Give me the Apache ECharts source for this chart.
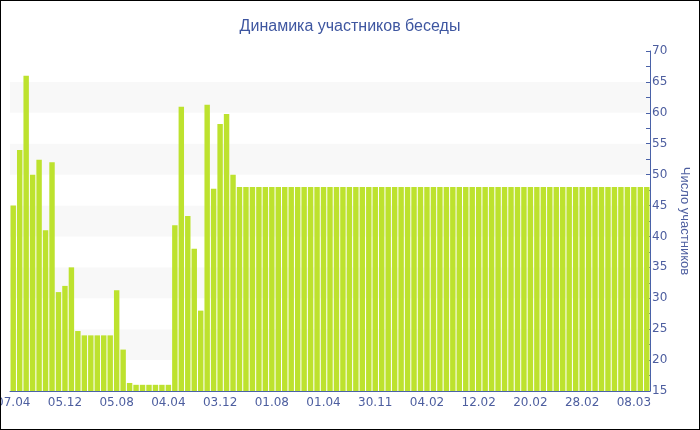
<!DOCTYPE html>
<html>
<head>
<meta charset="utf-8">
<script src="https://cdn.jsdelivr.net/npm/echarts@6/dist/echarts.min.js"></script>
<style>
  html, body { margin: 0; padding: 0; background: #fff; }
  #chart { width: 698px; height: 428px; border: 1px solid #000; }
</style>
</head>
<body>
<div id="chart"></div>
<script>
  // подписи оси X, каждая 8-я категория
  var tickLabels = ['07.04', '05.12', '05.08', '04.04', '03.12', '01.08', '01.04',
                    '30.11', '04.02', '12.02', '20.02', '28.02', '08.03']
  var labelStep = 8

  // число участников по каждому столбцу
  var headValues = [45, 54, 66, 50, 52.4, 41, 52, 31, 32, 35,
                    24.7, 24, 24, 24, 24, 24, 31.3, 21.7, 16.3, 16,
                    16, 16, 16, 16, 16, 41.8, 61, 43.3, 38, 28,
                    61.3, 47.7, 58.2, 59.8, 50]
  var tailValue = 48
  var tailCount = 64

  var values = headValues.slice()
  for (var i = 0; i < tailCount; i++) values.push(tailValue)

  var categories = []
  for (var j = 0; j < values.length; j++) {
    categories.push(j % labelStep === 0 ? (tickLabels[j / labelStep] || '') : '#' + j)
  }

  var axisColor = '#4a62a8'
  var textColor = '#4d5e9f'
  var font = 'Liberation Sans'
  var tickFont = 'DejaVu Sans'

  var myChart = echarts.init(document.getElementById('chart'))
  var option = {
    animation: false,
    title: {
      left: 'center',
      top: 13,
      text: 'Динамика участников беседы',
      textStyle: {
        color: '#3e56a0',
        fontWeight: 'normal',
        fontSize: 16,
        fontFamily: font,
      },
    },
    grid: {
      left: 9,
      right: 49,
      top: 50,
      bottom: 38,
      outerBoundsMode: 'none',
      containLabel: false,
    },
    xAxis: {
      type: 'category',
      data: categories,
      axisLine: { lineStyle: { color: axisColor } },
      axisTick: {
        alignWithLabel: true,
        interval: function (idx) { return idx % labelStep === 0 },
        length: 4,
        lineStyle: { color: axisColor },
      },
      axisLabel: {
        interval: function (idx) { return idx % labelStep === 0 },
        color: textColor,
        fontSize: 12,
        fontFamily: tickFont,
        margin: 6,
        hideOverlap: false,
      },
      splitLine: { show: false },
    },
    yAxis: {
      type: 'value',
      position: 'right',
      min: 15,
      max: 70,
      interval: 5,
      name: 'Число участников',
      nameLocation: 'middle',
      nameRotate: -90,
      nameGap: 28,
      nameTextStyle: { color: textColor, fontSize: 13, fontFamily: font },
      axisLine: { show: true, lineStyle: { color: axisColor } },
      axisTick: { show: true, inside: true, length: 4, lineStyle: { color: axisColor } },
      minorTick: { show: true, splitNumber: 2, length: 4, lineStyle: { color: axisColor } },
      axisLabel: { color: textColor, fontSize: 12, fontFamily: tickFont, margin: 2 },
      splitLine: { show: false },
      splitArea: {
        show: true,
        areaStyle: { color: ['#ffffff', '#f8f8f8'] },
      },
    },
    series: [
      {
        name: 'Число участников',
        type: 'bar',
        data: values,
        barCategoryGap: '16%',
        itemStyle: { color: '#bde22e' },
      },
    ],
  }
  myChart.setOption(option)
</script>
</body>
</html>
